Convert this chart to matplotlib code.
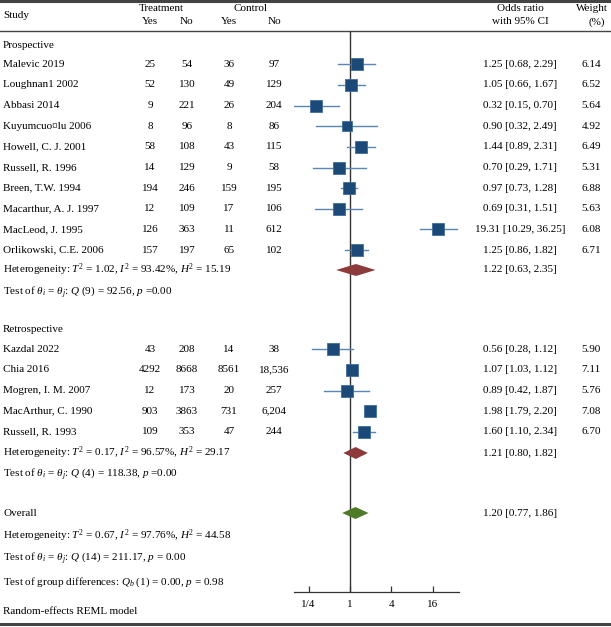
import numpy as np
import matplotlib
matplotlib.use("Agg")
import matplotlib.pyplot as plt
from matplotlib.ticker import FixedLocator, FixedFormatter

plt.rcParams['font.family'] = ['Liberation Serif', 'DejaVu Serif']
plt.rcParams['mathtext.fontset'] = 'custom'
plt.rcParams['mathtext.rm'] = 'Liberation Serif'
plt.rcParams['mathtext.it'] = 'Liberation Serif:italic'
plt.rcParams['mathtext.bf'] = 'Liberation Serif:bold'

# данные - проспективные исследования
pro_study = ['Malevic 2019', 'Loughnan1 2002', 'Abbasi 2014', 'Kuyumcuo\u00a4lu 2006',
             'Howell, C. J. 2001', 'Russell, R. 1996', 'Breen, T.W. 1994',
             'Macarthur, A. J. 1997', 'MacLeod, J. 1995', 'Orlikowski, C.E. 2006']
pro_tr_yes = ['25', '52', '9', '8', '58', '14', '194', '12', '126', '157']
pro_tr_no = ['54', '130', '221', '96', '108', '129', '246', '109', '363', '197']
pro_ct_yes = ['36', '49', '26', '8', '43', '9', '159', '17', '11', '65']
pro_ct_no = ['97', '129', '204', '86', '115', '58', '195', '106', '612', '102']
pro_or = [1.25, 1.05, 0.32, 0.90, 1.44, 0.70, 0.97, 0.69, 19.31, 1.25]
pro_lo = [0.68, 0.66, 0.15, 0.32, 0.89, 0.29, 0.73, 0.31, 10.29, 0.86]
pro_hi = [2.29, 1.67, 0.70, 2.49, 2.31, 1.71, 1.28, 1.51, 36.25, 1.82]
pro_w = [6.14, 6.52, 5.64, 4.92, 6.49, 5.31, 6.88, 5.63, 6.08, 6.71]
pro_pool = (1.22, 0.63, 2.35)

# ретроспективные исследования
ret_study = ['Kazdal 2022', 'Chia 2016', 'Mogren, I. M. 2007', 'MacArthur, C. 1990', 'Russell, R. 1993']
ret_tr_yes = ['43', '4292', '12', '903', '109']
ret_tr_no = ['208', '8668', '173', '3863', '353']
ret_ct_yes = ['14', '8561', '20', '731', '47']
ret_ct_no = ['38', '18,536', '257', '6,204', '244']
ret_or = [0.56, 1.07, 0.89, 1.98, 1.60]
ret_lo = [0.28, 1.03, 0.42, 1.79, 1.10]
ret_hi = [1.12, 1.12, 1.87, 2.20, 2.34]
ret_w = [5.90, 7.11, 5.76, 7.08, 6.70]
ret_pool = (1.21, 0.80, 1.82)

overall = (1.20, 0.77, 1.86)

tick_vals = [0.25, 1, 4, 16]
tick_labels = ['1/4', '1', '4', '16']

W, H = 611, 627
fig = plt.figure(figsize=(W / 100, H / 100), dpi=100)

# фоновая ось для текста (пиксельные координаты)
tax = fig.add_axes([0, 0, 1, 1])
tax.set_xlim(0, W)
tax.set_ylim(H, 0)
tax.axis('off')

# ось для forest plot
ax_top, ax_bot, ax_l, ax_r = 31, 592, 294, 459
fax = fig.add_axes([ax_l / W, 1 - ax_bot / H, (ax_r - ax_l) / W, (ax_bot - ax_top) / H])
fax.patch.set_alpha(0)
fax.set_xscale('log', base=2)
fax.set_xlim(2 ** -2.705, 2 ** 5.266)
fax.set_ylim(ax_bot, ax_top)
for s in ['top', 'right', 'left']:
    fax.spines[s].set_visible(False)
fax.spines['bottom'].set_linewidth(0.9)
fax.spines['bottom'].set_color('#333333')
fax.set_yticks([])
fax.xaxis.set_major_locator(FixedLocator(tick_vals))
fax.xaxis.set_major_formatter(FixedFormatter(tick_labels))
fax.xaxis.set_minor_locator(FixedLocator([]))
fax.tick_params(axis='x', direction='in', length=4, width=0.9, color='#333333',
                labelsize=8, pad=6)
fax.axvline(1, color='#333333', lw=1.0)

fs = 8
col_x = [150, 187, 229, 274]
or_x = 520
w_x = 591

# линии таблицы
tax.plot([0, W], [1, 1], color='#444444', lw=2.2)
tax.plot([0, W], [ax_top, ax_top], color='#444444', lw=1.0)
tax.plot([0, W], [624, 624], color='#444444', lw=2.2)

# заголовок
tax.text(3, 15, 'Study', fontsize=fs, va='center')
tax.text(161, 8.5, 'Treatment', fontsize=fs, va='center', ha='center')
tax.text(251, 8.5, 'Control', fontsize=fs, va='center', ha='center')
for x, t in zip(col_x, ['Yes', 'No', 'Yes', 'No']):
    tax.text(x, 22, t, fontsize=fs, va='center', ha='center')
tax.text(or_x, 8.5, 'Odds ratio', fontsize=fs, va='center', ha='center')
tax.text(or_x, 22, 'with 95% CI', fontsize=fs, va='center', ha='center')
tax.text(608, 8.5, 'Weight', fontsize=fs, va='center', ha='right')
tax.text(597, 22, '(%)', fontsize=fs, va='center', ha='center')

sq_face = '#1c4a78'
sq_edge = '#3d6e9c'
ci_col = '#5a86b2'


def draw_rows(y0, names, a, b, c, d, ors, los, his, ws):
    for i in range(len(names)):
        y = y0 + 20.65 * i
        tax.text(3, y, names[i], fontsize=fs, va='center')
        for x, v in zip(col_x, [a[i], b[i], c[i], d[i]]):
            tax.text(x, y, v, fontsize=fs, va='center', ha='center')
        tax.text(or_x, y, '%.2f [%.2f, %.2f]' % (ors[i], los[i], his[i]),
                 fontsize=fs, va='center', ha='center')
        tax.text(w_x, y, '%.2f' % ws[i], fontsize=fs, va='center', ha='center')
        fax.plot([los[i], his[i]], [y, y], color=ci_col, lw=1.0, zorder=2)
        fax.plot(ors[i], y, marker='s', ms=3.5 * np.sqrt(ws[i]), color=sq_face,
                 mec=sq_edge, mew=0.6, zorder=3)


def diamond(y, est, color):
    e, lo, hi = est
    fax.fill([lo, e, hi, e], [y, y - 6, y, y + 6], color=color, lw=0, zorder=3)
    tax.text(or_x, y, '%.2f [%.2f, %.2f]' % (e, lo, hi), fontsize=fs, va='center', ha='center')


# проспективные
tax.text(3, 45, 'Prospective', fontsize=fs, va='center')
draw_rows(64.3, pro_study, pro_tr_yes, pro_tr_no, pro_ct_yes, pro_ct_no, pro_or, pro_lo, pro_hi, pro_w)
diamond(270, pro_pool, '#8f3a3a')
tax.text(3, 270, r'Heterogeneity: $T^2$ = 1.02, $I^2$ = 93.42%, $H^2$ = 15.19', fontsize=fs, va='center')
tax.text(3, 292, r'Test of $\theta_i$ = $\theta_j$: $Q$ (9) = 92.56, $p$ =0.00', fontsize=fs, va='center')

# ретроспективные
tax.text(3, 330, 'Retrospective', fontsize=fs, va='center')
draw_rows(349.3, ret_study, ret_tr_yes, ret_tr_no, ret_ct_yes, ret_ct_no, ret_or, ret_lo, ret_hi, ret_w)
diamond(453, ret_pool, '#8f3a3a')
tax.text(3, 453, r'Heterogeneity: $T^2$ = 0.17, $I^2$ = 96.57%, $H^2$ = 29.17', fontsize=fs, va='center')
tax.text(3, 473.5, r'Test of $\theta_i$ = $\theta_j$: $Q$ (4) = 118.38, $p$ =0.00', fontsize=fs, va='center')

# общий итог
tax.text(3, 513, 'Overall', fontsize=fs, va='center')
diamond(513, overall, '#4f7a28')
tax.text(3, 535.5, r'Heterogeneity: $T^2$ = 0.67, $I^2$ = 97.76%, $H^2$ = 44.58', fontsize=fs, va='center')
tax.text(3, 558, r'Test of $\theta_i$ = $\theta_j$: $Q$ (14) = 211.17, $p$ = 0.00', fontsize=fs, va='center')
tax.text(3, 582.5, r'Test of group differences: $Q_b$ (1) = 0.00, $p$ = 0.98', fontsize=fs, va='center')
tax.text(3, 612, 'Random-effects REML model', fontsize=fs, va='center')

fig.savefig('out.png', dpi=100)
